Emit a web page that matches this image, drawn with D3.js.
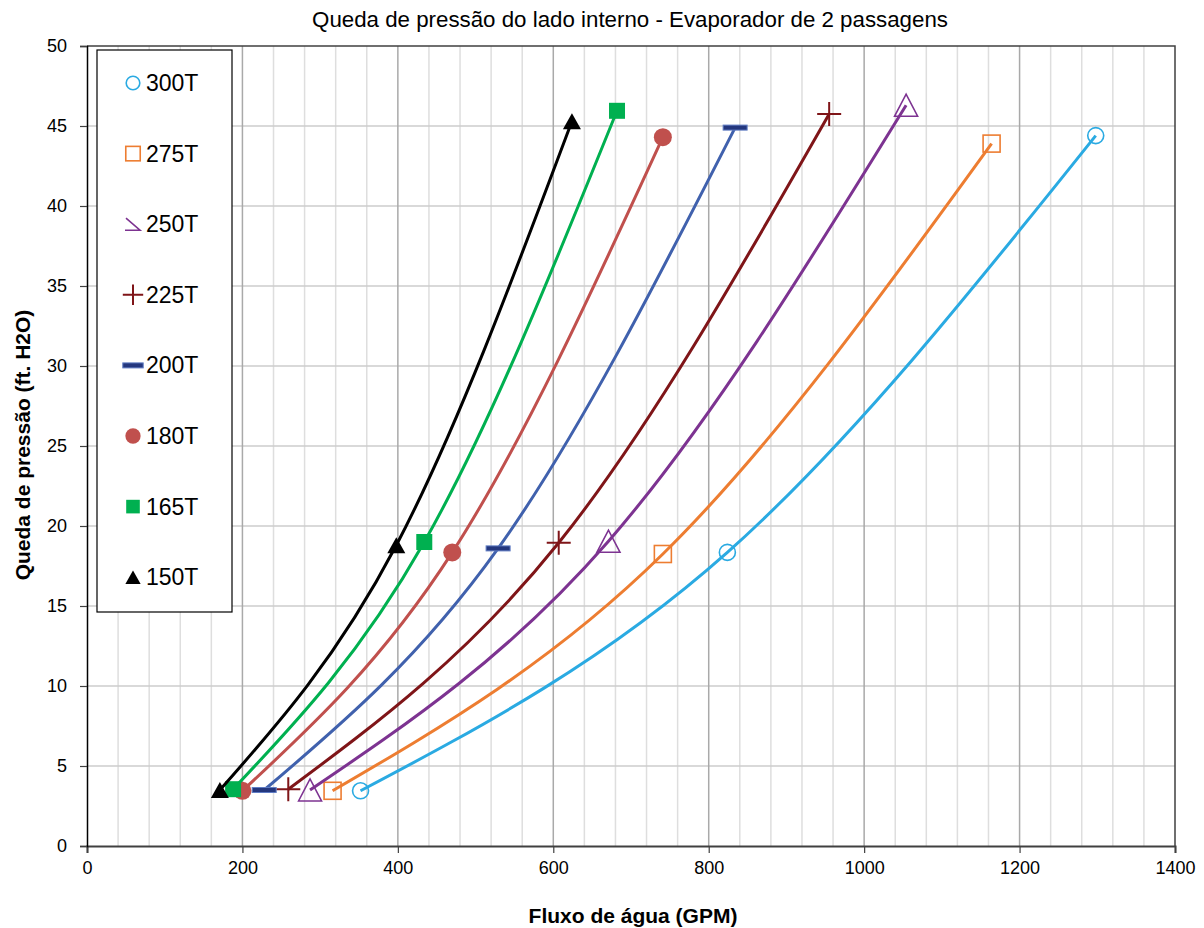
<!DOCTYPE html>
<html>
<head>
<meta charset="utf-8">
<script src="https://cdn.jsdelivr.net/npm/d3@7"></script>
<style>
  body { margin: 0; background: #fff; }
  text { font-family: "Liberation Sans", Arial, sans-serif; fill: #000; }
</style>
</head>
<body>
<div id="chart"></div>
<script>
/* CONSTANTS AND GLOBALS */
const width = 1204,
  height = 928,
  margin = { top: 46, right: 29, bottom: 82, left: 87 };

// data: flow (GPM) and pressure drop (ft H2O), three points per model
const seriesNames = ["300T", "275T", "250T", "225T", "200T", "180T", "165T", "150T"];
const flow300 = [352, 824, 1298], drop300 = [3.45, 18.35, 44.4];
const flow275 = [316, 741, 1164], drop275 = [3.45, 18.25, 43.9];
const flow250 = [287, 671, 1054], drop250 = [3.5, 19.05, 46.3];
const flow225 = [259, 607, 955], drop225 = [3.55, 18.95, 45.75];
const flow200 = [228, 529, 834], drop200 = [3.5, 18.6, 44.9];
const flow180 = [200, 470, 741], drop180 = [3.45, 18.35, 44.3];
const flow165 = [188, 434, 682], drop165 = [3.55, 19.0, 45.95];
const flow150 = [171, 398, 624], drop150 = [3.5, 18.8, 45.3];

const xTicks = [0, 200, 400, 600, 800, 1000, 1200, 1400];
const yTicks = [0, 5, 10, 15, 20, 25, 30, 35, 40, 45, 50];

const flows = [flow300, flow275, flow250, flow225, flow200, flow180, flow165, flow150];
const drops = [drop300, drop275, drop250, drop225, drop200, drop180, drop165, drop150];

// look of each series
const styles = {
  "300T": { color: "#2aaae2", marker: "circleOpen" },
  "275T": { color: "#ed7d31", marker: "squareOpen" },
  "250T": { color: "#7d3391", marker: "triangleOpen" },
  "225T": { color: "#7f1518", marker: "plus" },
  "200T": { color: "#4061ad", marker: "dash" },
  "180T": { color: "#c0504d", marker: "circle" },
  "165T": { color: "#00b050", marker: "square" },
  "150T": { color: "#000000", marker: "triangle" }
};

const series = seriesNames.map((name, i) => ({
  name,
  values: flows[i].map((f, j) => ({ flow: f, drop: drops[i][j] }))
}));

/* SCALES */
const xScale = d3.scaleLinear()
  .domain([0, 1400])
  .range([margin.left, width - margin.right]);

const yScale = d3.scaleLinear()
  .domain([0, 50])
  .range([height - margin.bottom, margin.top]);

const svg = d3.select("#chart")
  .append("svg")
  .attr("width", width)
  .attr("height", height);

/* GRID */
const grid = svg.append("g");
// minor verticals every 40 GPM
grid.selectAll("line.minor")
  .data(d3.range(40, 1400, 40).filter(d => d % 200 !== 0))
  .join("line")
  .attr("class", "minor")
  .attr("x1", d => xScale(d)).attr("x2", d => xScale(d))
  .attr("y1", yScale(0)).attr("y2", yScale(50))
  .attr("stroke", "#dedede")
  .attr("stroke-width", 1.5);

grid.selectAll("line.hgrid")
  .data(yTicks.filter(d => d > 0 && d < 50))
  .join("line")
  .attr("class", "hgrid")
  .attr("x1", xScale(0)).attr("x2", xScale(1400))
  .attr("y1", d => yScale(d)).attr("y2", d => yScale(d))
  .attr("stroke", "#cdcdcd")
  .attr("stroke-width", 1.5);

grid.selectAll("line.major")
  .data(xTicks.filter(d => d > 0 && d < 1400))
  .join("line")
  .attr("class", "major")
  .attr("x1", d => xScale(d)).attr("x2", d => xScale(d))
  .attr("y1", yScale(0)).attr("y2", yScale(50))
  .attr("stroke", "#a9a9a9")
  .attr("stroke-width", 1.5);

// top and right border
svg.append("path")
  .attr("d", `M${xScale(0)},${yScale(50)}H${xScale(1400)}V${yScale(0)}`)
  .attr("fill", "none")
  .attr("stroke", "#404040")
  .attr("stroke-width", 1.5);

/* AXES */
const xAxis = d3.axisBottom(xScale).tickValues(xTicks).tickFormat(d3.format("d")).tickSize(7).tickPadding(8);
const yAxis = d3.axisLeft(yScale).tickValues(yTicks).tickFormat(d3.format("d")).tickSize(7).tickPadding(13);

svg.append("g")
  .attr("transform", `translate(0, ${yScale(0)})`)
  .call(xAxis)
  .call(g => g.select(".domain").attr("stroke", "#404040").attr("stroke-width", 2))
  .call(g => g.selectAll(".tick line").attr("stroke", "#404040").attr("stroke-width", 1.2))
  .call(g => g.selectAll(".tick text").attr("font-size", 18).attr("font-family", "Liberation Sans, Arial"));

svg.append("g")
  .attr("transform", `translate(${xScale(0)}, 0)`)
  .call(yAxis)
  .call(g => g.select(".domain").attr("stroke", "#000").attr("stroke-width", 1.5))
  .call(g => g.selectAll(".tick line").attr("stroke", "#404040").attr("stroke-width", 1.2))
  .call(g => g.selectAll(".tick text").attr("font-size", 18).attr("font-family", "Liberation Sans, Arial"));

/* TITLES */
svg.append("text")
  .attr("x", 630)
  .attr("y", 27)
  .attr("text-anchor", "middle")
  .attr("font-size", 22.3)
  .text("Queda de pressão do lado interno - Evaporador de 2 passagens");

svg.append("text")
  .attr("x", (xScale(0) + xScale(1400)) / 2 + 2)
  .attr("y", 923)
  .attr("text-anchor", "middle")
  .attr("font-size", 21)
  .attr("font-weight", "bold")
  .text("Fluxo de água (GPM)");

svg.append("text")
  .attr("transform", `translate(30, ${(yScale(0) + yScale(50)) / 2 - 1}) rotate(-90)`)
  .attr("text-anchor", "middle")
  .attr("font-size", 21)
  .attr("font-weight", "bold")
  .text("Queda de pressão (ft. H2O)");

/* MARKERS */
function drawMarker(g, type, color, s) {
  switch (type) {
    case "circleOpen":
      g.append("circle").attr("r", 8 * s).attr("fill", "none").attr("stroke", color).attr("stroke-width", 1.6);
      break;
    case "squareOpen":
      g.append("rect").attr("x", -8.5 * s).attr("y", -8.5 * s).attr("width", 17 * s).attr("height", 17 * s)
        .attr("fill", "none").attr("stroke", color).attr("stroke-width", 1.6);
      break;
    case "triangleOpen":
      g.append("path").attr("d", `M${-11.5 * s},${11 * s}L0,${-11 * s}L${11.5 * s},${11 * s}Z`)
        .attr("fill", "none").attr("stroke", color).attr("stroke-width", 1.6);
      break;
    case "plus":
      g.append("path").attr("d", `M${-12 * s},0H${12 * s}M0,${-12 * s}V${12 * s}`)
        .attr("stroke", color).attr("stroke-width", 2);
      break;
    case "dash":
      g.append("rect").attr("x", -12 * s).attr("y", -2.5).attr("width", 24 * s).attr("height", 5)
        .attr("fill", "#24377e").attr("stroke", "#5f7cc4").attr("stroke-width", 1);
      break;
    case "circle":
      g.append("circle").attr("r", 9 * s).attr("fill", color);
      break;
    case "square":
      g.append("rect").attr("x", -8 * s).attr("y", -8 * s).attr("width", 16 * s).attr("height", 16 * s)
        .attr("fill", color);
      break;
    case "triangle":
      g.append("path").attr("d", `M${-9 * s},${8 * s}L0,${-8 * s}L${9 * s},${8 * s}Z`).attr("fill", color);
      break;
  }
}

/* LINES */
const lineFunction = d3.line()
  .x(d => xScale(d.flow))
  .y(d => yScale(d.drop))
  .curve(d3.curveMonotoneX);

const seriesG = svg.selectAll("g.series")
  .data(series)
  .join("g")
  .attr("class", "series");

seriesG.append("path")
  .attr("fill", "none")
  .attr("stroke", d => styles[d.name].color)
  .attr("stroke-width", 3)
  .attr("d", d => lineFunction(d.values));

seriesG.each(function (d) {
  const st = styles[d.name];
  d3.select(this).selectAll("g.marker")
    .data(d.values)
    .join("g")
    .attr("class", "marker")
    .attr("transform", p => `translate(${xScale(p.flow)}, ${yScale(p.drop)})`)
    .each(function () { drawMarker(d3.select(this), st.marker, st.color, 1); });
});

/* LEGEND */
const legend = svg.append("g");
legend.append("rect")
  .attr("x", 97).attr("y", 50)
  .attr("width", 135).attr("height", 562)
  .attr("fill", "#fff")
  .attr("stroke", "#000")
  .attr("stroke-width", 1.2);

const legendItems = legend.selectAll("g.item")
  .data(seriesNames)
  .join("g")
  .attr("class", "item")
  .attr("transform", (d, i) => `translate(133, ${83 + i * 70.6})`);

legendItems.each(function (d) {
  const g = d3.select(this);
  const st = styles[d];
  if (st.marker === "triangleOpen") {
    g.append("path").attr("d", "M-7,-6L7,6H-8")
      .attr("fill", "none").attr("stroke", st.color).attr("stroke-width", 1.6);
  } else {
    drawMarker(g, st.marker, st.color, 0.85);
  }
});

legendItems.append("text")
  .attr("x", 13)
  .attr("y", 8)
  .attr("font-size", 23)
  .text(d => d);
</script>
</body>
</html>
